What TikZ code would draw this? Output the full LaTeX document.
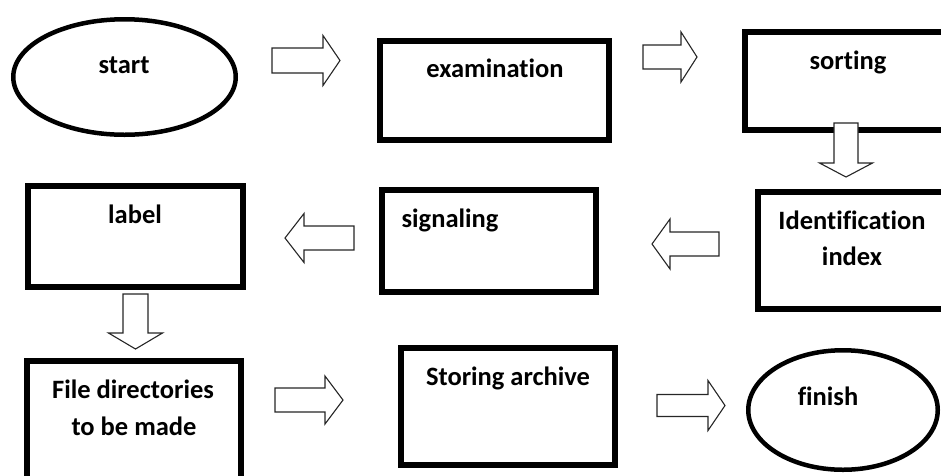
\documentclass[tikz,border=0pt]{standalone}
\usepackage{fontspec}
\setmainfont[Ligatures=NoCommon]{Carlito}
\usetikzlibrary{shapes.geometric}
\begin{document}
\begin{tikzpicture}[x=1pt,y=-1pt,
  boxnode/.style={draw=black,line width=6pt,rectangle,inner sep=0pt,fill=white},
  ovalnode/.style={draw=black,line width=4.5pt,ellipse,inner sep=0pt,fill=white},
  txt/.style={font=\fontsize{26.5}{30}\selectfont\bfseries,anchor=base,inner sep=0pt},
  blk/.style={draw=black!85,line width=1.1pt,fill=white,line join=miter}]
\useasboundingbox (0,0) rectangle (941,475);
\clip (0,0) rectangle (941,475);
\newcommand{\rarrow}[6]{% x0 xbase xtip ycenter shafthalf headhalf
  \draw[blk] (#1,#4-#5) -- (#2,#4-#5) -- (#2,#4-#6) -- (#3,#4) -- (#2,#4+#6) -- (#2,#4+#5) -- (#1,#4+#5) -- cycle;}
\newcommand{\darrow}[6]{% y0 ybase ytip xcenter shafthalf headhalf
  \draw[blk] (#4-#5,#1) -- (#4-#5,#2) -- (#4-#6,#2) -- (#4,#3) -- (#4+#6,#2) -- (#4+#5,#2) -- (#4+#5,#1) -- cycle;}

% nodes
\node[ovalnode,minimum width=222.5pt,minimum height=115.5pt] (start) at (124.5,77) {};
\node[boxnode,minimum width=229pt,minimum height=99pt] (exam) at (494.5,90.5) {};
\node[boxnode,minimum width=220pt,minimum height=98pt] (sort) at (855,81) {};
\node[boxnode,minimum width=210pt,minimum height=117pt] (ident) at (863,250.5) {};
\node[boxnode,minimum width=214pt,minimum height=102pt] (signal) at (489,241) {};
\node[boxnode,minimum width=215pt,minimum height=101pt] (lab) at (135.5,236.5) {};
\node[boxnode,minimum width=214pt,minimum height=140pt] (file) at (134,431) {};
\node[boxnode,minimum width=214pt,minimum height=117pt] (store) at (508,406.5) {};
\node[ovalnode,minimum width=189.5pt,minimum height=119.5pt] (finish) at (843,410) {};

% texts
\node[txt] (tstart) at (124,73) {start};
\node[txt] (texam) at (495,77) {examination};
\node[txt] (tsort) at (848,69) {sorting};
\node[txt] (tident1) at (852,229) {Identification};
\node[txt] (tident2) at (852,265) {index};
\node[txt] (tsignal) at (450,227) {signaling};
\node[txt] (tlab) at (135,223) {label};
\node[txt] (tfile1) at (133,398) {File directories};
\node[txt] (tfile2) at (134,435) {to be made};
\node[txt] (tstore) at (508,385) {Storing archive};
\node[txt] (tfinish) at (828,405) {finish};

% block arrows
\rarrow{272}{323}{340}{60.5}{12.5}{25}
\rarrow{643}{681}{697}{57}{12}{25}
\darrow{123}{163}{177}{846}{12}{26.5}
\rarrow{719}{670}{652}{244}{12}{25}
\rarrow{354}{304}{285}{238}{12}{24.5}
\darrow{294}{333}{349}{135.5}{12.5}{27}
\rarrow{275}{325}{343}{400}{12}{24}
\rarrow{657}{708}{725}{405.5}{11}{25}
\end{tikzpicture}
\end{document}
